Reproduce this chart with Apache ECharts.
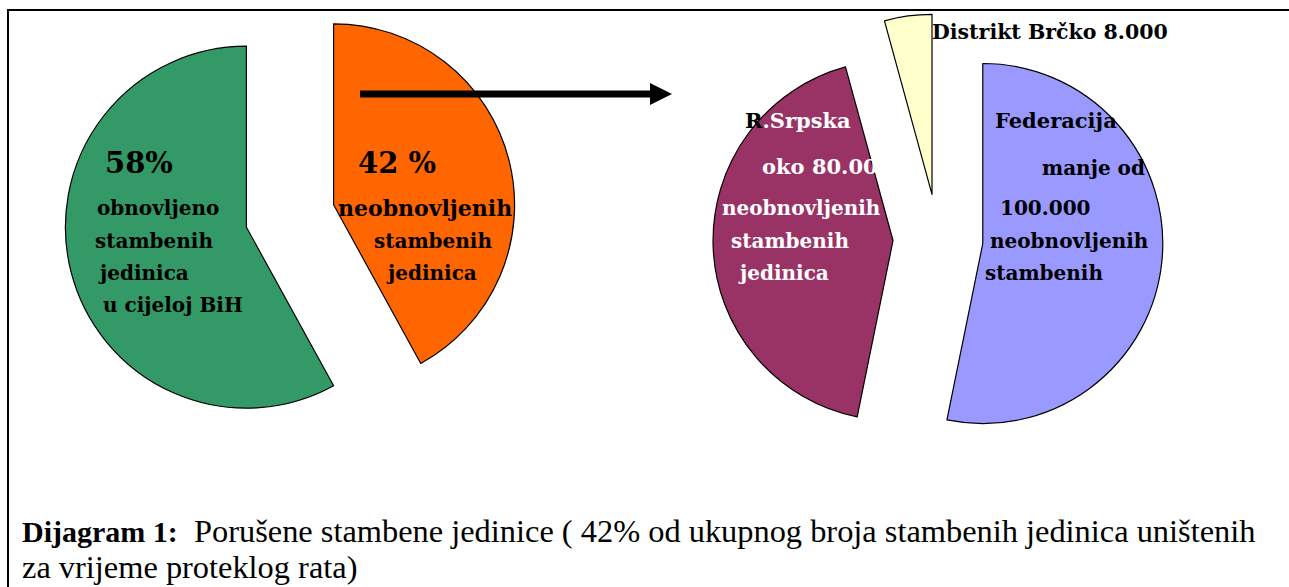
<!DOCTYPE html>
<html>
<head>
<meta charset="utf-8">
<script src="https://cdn.jsdelivr.net/npm/echarts@6/dist/echarts.min.js"></script>
<style>
  html, body { margin: 0; padding: 0; background: #fff; }
  #main { width: 1289px; height: 587px; }
</style>
</head>
<body>
<div id="main"></div>
<script>
// ukupno: neobnovljeno / obnovljeno (%)
var totalNames = ["neobnovljeno", "obnovljeno"];
var totalValues = [42, 58];
var totalColors = ["#FF6600", "#339966"];

// neobnovljene po entitetima
var entityNames = ["Federacija", "R.Srpska", "Distrikt Brčko"];
var entityValues = [100000, 80000, 8000];
var entityColors = ["#9999FF", "#993366", "#FFFFCC"];

var serif = "DejaVu Serif";
var captionFont = "Liberation Serif";

function txt(x, y, text, size, color) {
  return {
    type: "text",
    x: x,
    y: y,
    z: 100,
    style: {
      text: text,
      fontFamily: serif,
      fontWeight: "bold",
      fontSize: size,
      fill: color || "#000",
      verticalAlign: "middle"
    }
  };
}

function pieData(names, values, colors) {
  return names.map(function (n, i) {
    return { name: n, value: values[i], selected: true, itemStyle: { color: colors[i] } };
  });
}

var myChart = echarts.init(document.getElementById("main"), null, { renderer: "svg" });

var option = {
  animation: false,
  series: [
    {
      type: "pie",
      center: [290, 216],
      radius: [0, 181],
      startAngle: 90,
      selectedMode: "multiple",
      selectedOffset: 45,
      label: { show: false },
      labelLine: { show: false },
      emphasis: { disabled: true },
      itemStyle: { borderColor: "#000", borderWidth: 1.2 },
      data: pieData(totalNames, totalValues, totalColors)
    },
    {
      type: "pie",
      center: [938, 239],
      radius: [0, 180],
      startAngle: 90,
      selectedMode: "multiple",
      selectedOffset: 45,
      label: { show: false },
      labelLine: { show: false },
      emphasis: { disabled: true },
      itemStyle: { borderColor: "#000", borderWidth: 1.2 },
      data: pieData(entityNames, entityValues, entityColors)
    }
  ],
  graphic: [
    // okvir
    {
      type: "polyline",
      z: 90,
      shape: { points: [[8, 600], [8, 10], [1300, 10]] },
      style: { stroke: "#000", lineWidth: 2, fill: null }
    },
    // strelica
    {
      type: "line",
      z: 100,
      shape: { x1: 360, y1: 94, x2: 652, y2: 94 },
      style: { stroke: "#000", lineWidth: 7 }
    },
    {
      type: "polygon",
      z: 100,
      shape: { points: [[650, 83], [672, 94], [650, 105]] },
      style: { fill: "#000" }
    },
    // lijeva pita
    txt(105, 163, totalValues[1] + "%", 29),
    txt(97, 208, "obnovljeno", 20),
    txt(95, 241, "stambenih", 20),
    txt(100, 273, "jedinica", 20),
    txt(103, 305, "u cijeloj BiH", 20),
    txt(358, 163, totalValues[0] + " %", 29),
    txt(338, 208, "neobnovljenih", 22),
    txt(374, 241, "stambenih", 20),
    txt(388, 273, "jedinica", 20),
    // desna pita
    txt(932, 32, "Distrikt Brčko 8.000", 20.5),
    {
      type: "text",
      x: 745,
      y: 120,
      z: 100,
      style: {
        text: "{b|R}{w|.Srpska}",
        verticalAlign: "middle",
        rich: {
          b: { fontFamily: serif, fontWeight: "bold", fontSize: 21, fill: "#000" },
          w: { fontFamily: serif, fontWeight: "bold", fontSize: 21, fill: "#fff" }
        }
      }
    },
    txt(762, 166, "oko 80.000", 21, "#fff"),
    txt(722, 208, "neobnovljenih", 20, "#fff"),
    txt(731, 241, "stambenih", 20, "#fff"),
    txt(740, 273, "jedinica", 20, "#fff"),
    txt(995, 120, "Federacija", 21),
    txt(1042, 168, "manje od", 20),
    txt(1000, 208, "100.000", 20),
    txt(990, 241, "neobnovljenih", 20),
    txt(985, 273, "stambenih", 20),
    // potpis
    {
      type: "text",
      x: 22,
      y: 531,
      z: 100,
      style: {
        text: "{b|Dijagram 1:}{r|  Porušene stambene jedinice ( 42% od ukupnog broja stambenih jedinica uništenih}",
        verticalAlign: "middle",
        rich: {
          b: { fontFamily: captionFont, fontWeight: "bold", fontSize: 30, fill: "#000" },
          r: { fontFamily: captionFont, fontWeight: "normal", fontSize: 32.4, fill: "#000" }
        }
      }
    },
    {
      type: "text",
      x: 22,
      y: 567,
      z: 100,
      style: {
        text: "za vrijeme proteklog rata)",
        fontFamily: captionFont,
        fontWeight: "normal",
        fontSize: 32.4,
        fill: "#000",
        verticalAlign: "middle"
      }
    }
  ]
};

myChart.setOption(option);
</script>
</body>
</html>
